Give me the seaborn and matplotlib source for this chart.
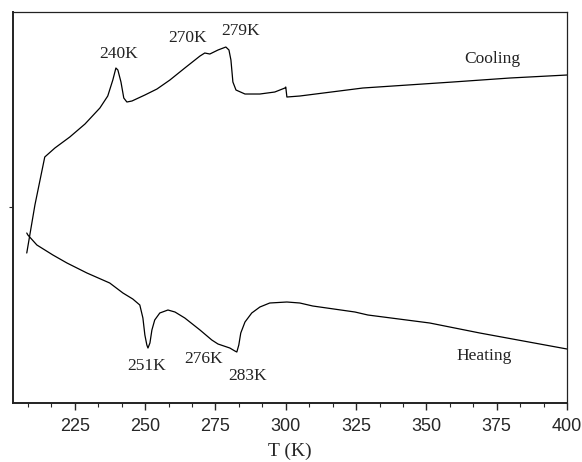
import numpy as np
import pandas as pd
import seaborn as sns
import matplotlib.pyplot as plt
from matplotlib.ticker import MultipleLocator, AutoMinorLocator

# DSC traces (signal in arbitrary units)
cool_T = [207.9, 210.8, 214.3, 217.9, 223.2, 228.6, 233.9, 236.7, 238.5, 239.6,
          240.3, 241.4, 242.4, 243.5, 245.3, 249.9, 254.2, 258.8, 264.1, 269.5,
          271.2, 273.0, 275.9, 278.7, 279.8, 280.5, 281.2, 282.3, 285.5, 290.8,
          296.1, 299.7, 300.0, 300.4, 305.0, 327.4, 359.4, 379.7, 400.0]
cool_y = [150, 198, 246, 255, 266, 279, 295, 307, 323, 335,
          333, 321, 305, 301, 302, 308, 314, 323, 335, 347,
          350, 349, 353, 356, 353, 343, 321, 313, 309, 309,
          311, 315, 316, 306, 307, 315, 321, 325, 328]

heat_T = [207.9, 208.3, 211.5, 217.2, 222.2, 229.3, 237.4, 242.1, 245.6, 248.1,
          249.2, 249.9, 250.6, 251.0, 251.7, 252.4, 253.4, 255.2, 258.1, 260.6,
          264.1, 269.5, 273.7, 275.9, 280.1, 281.9, 282.6, 283.3, 284.0, 285.5,
          287.9, 290.8, 294.3, 300.4, 305.0, 309.6, 324.6, 329.2, 351.2, 369.0, 400.0]
heat_y = [170, 168, 158, 148, 140, 130, 120, 110, 104, 98,
          85, 68, 58, 55, 60, 73, 83, 90, 93, 91,
          85, 73, 63, 59, 55, 52, 51, 58, 70, 81,
          90, 96, 100, 101, 100, 97, 91, 88, 80, 70, 54]

peak_labels = ['240K', '270K', '279K', '251K', '276K', '283K', 'Cooling', 'Heating']
label_T = [240.6, 265.2, 284.0, 250.6, 270.9, 286.5, 373.3, 370.4]
label_y = [349, 365, 372, 37, 44, 27, 344, 47]

df = pd.concat([
    pd.DataFrame({'T': cool_T, 'signal': cool_y, 'run': 'cooling'}),
    pd.DataFrame({'T': heat_T, 'signal': heat_y, 'run': 'heating'}),
])

sns.set_style('ticks')
plt.rcParams['font.family'] = ['Liberation Sans', 'DejaVu Sans']

fig = plt.figure(figsize=(5.82, 4.62), dpi=100)
ax = fig.add_axes([0.0223, 0.1277, 0.9519, 0.8463])

sns.lineplot(data=df, x='T', y='signal', units='run', estimator=None, sort=False,
             color='black', linewidth=0.9, ax=ax, legend=False)

for txt, tx, ty in zip(peak_labels, label_T, label_y):
    ax.text(tx, ty, txt, ha='center', va='center', fontsize=12.5,
            family=['Liberation Serif', 'DejaVu Serif'], color='#222222')

ax.set_xlim(203, 400)
ax.set_ylim(0, 391)
ax.xaxis.set_major_locator(MultipleLocator(25))
ax.xaxis.set_minor_locator(AutoMinorLocator(3))
ax.set_yticks([196])
ax.set_yticklabels([])
ax.tick_params(axis='x', which='major', length=5, width=1, labelsize=13, direction='out', pad=6)
ax.tick_params(axis='x', which='minor', length=3, width=0.8, direction='out')
ax.tick_params(axis='y', length=3, width=0.8, direction='out')

for side in ['left', 'bottom']:
    ax.spines[side].set_linewidth(1.4)
for side in ['top', 'right']:
    ax.spines[side].set_linewidth(0.9)
for sp in ax.spines.values():
    sp.set_color('#222222')

ax.set_xlabel('T (K)', fontsize=14, family=['Liberation Serif', 'DejaVu Serif'], labelpad=5)
ax.set_ylabel('')

fig.savefig('out.png', dpi=100)
